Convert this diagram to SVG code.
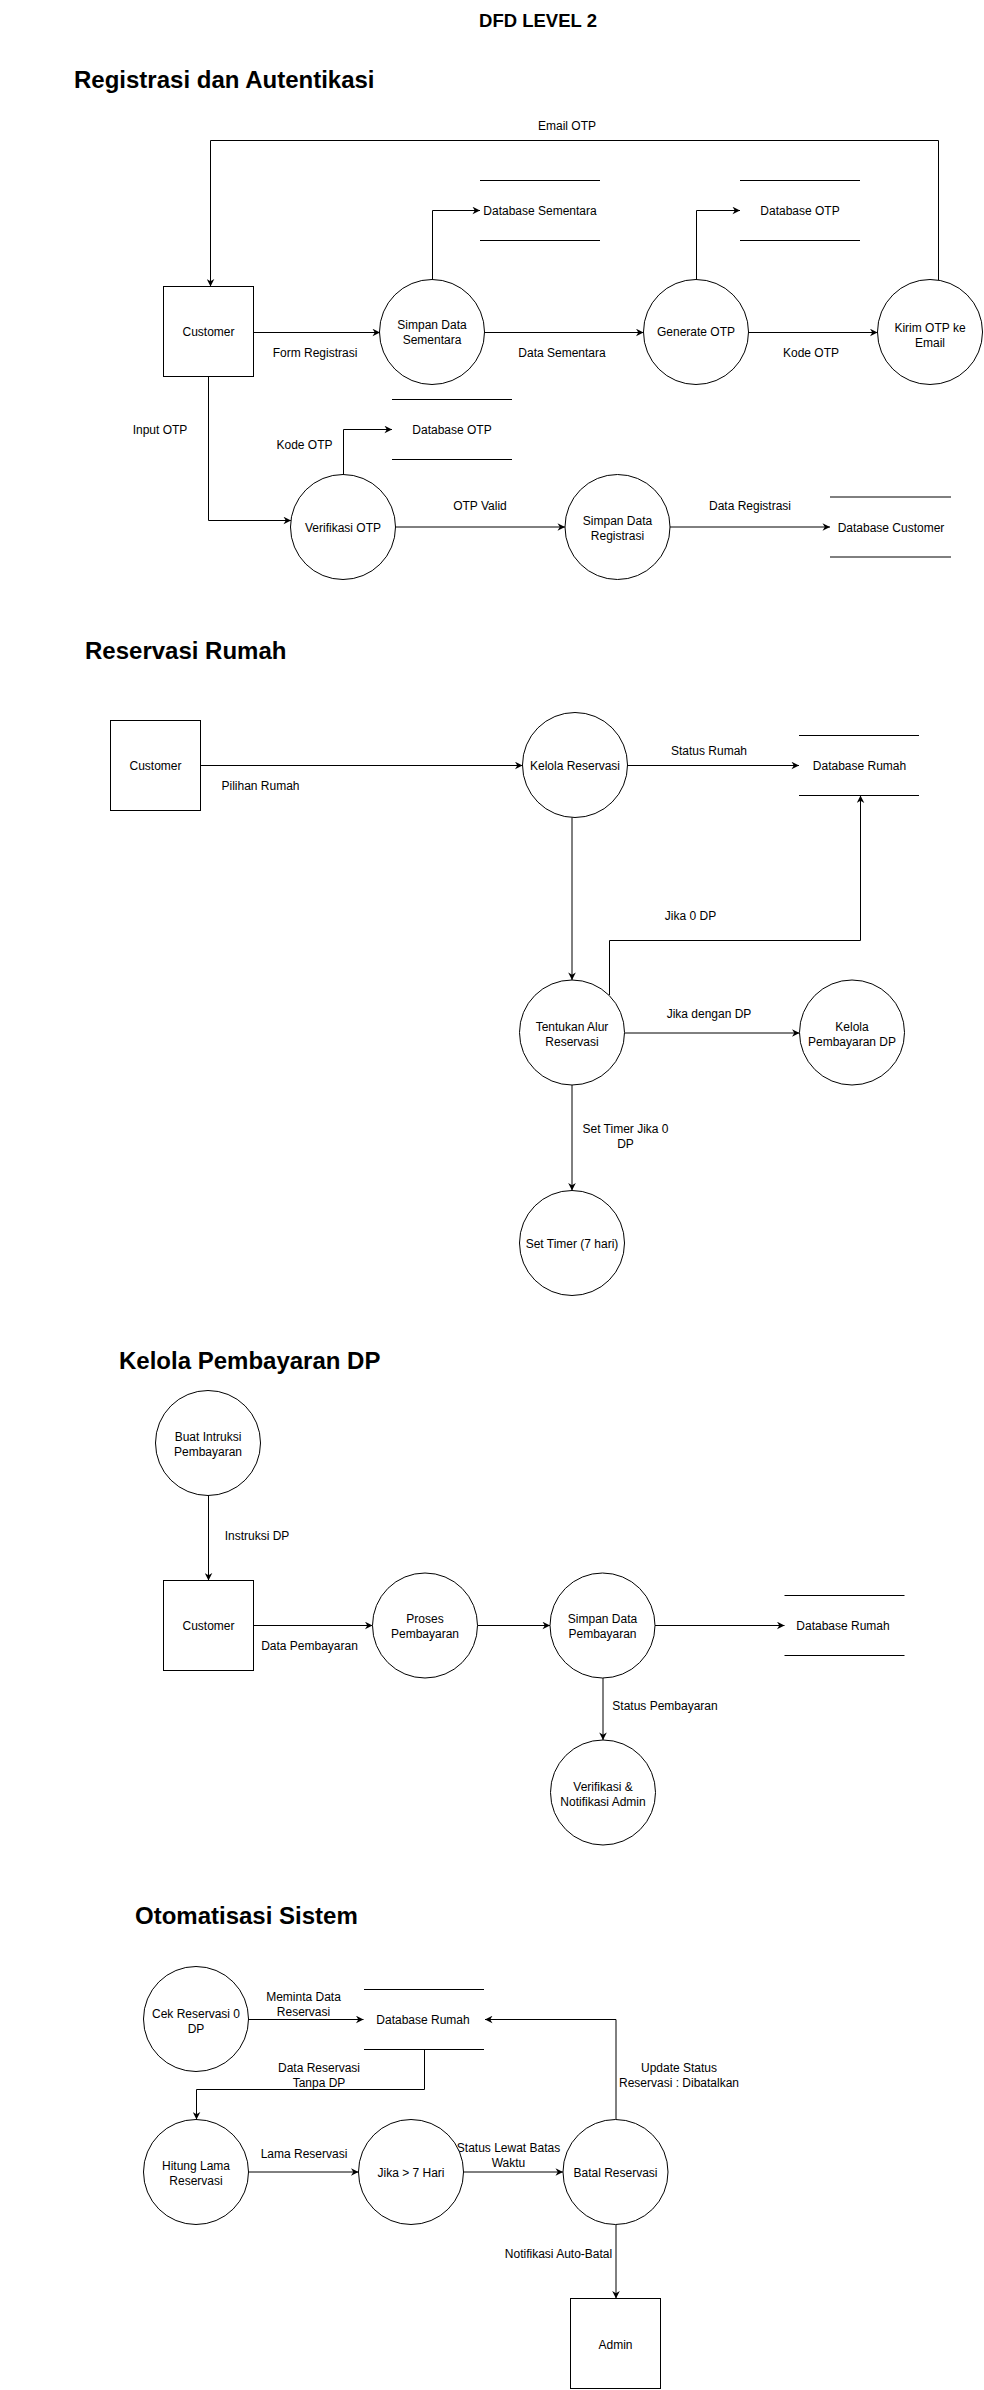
<svg xmlns="http://www.w3.org/2000/svg" width="984" height="2390" viewBox="0 0 984 2390">
<style>
.bg{fill:#fff}
.nd{fill:#fff;stroke:#000;stroke-width:1}
.st{fill:none;stroke:#000;stroke-width:1}
.ln{fill:none;stroke:#000;stroke-width:1;marker-end:url(#ar)}
.pl{fill:none;stroke:#000;stroke-width:1}
text{font-family:"Liberation Sans",Arial,Helvetica,sans-serif;font-size:12px;fill:#000;text-anchor:middle}
.h1{font-size:18.5px;font-weight:bold}
.h2{font-size:24px;font-weight:bold;text-anchor:start}
</style>
<defs>
<marker id="ar" markerUnits="userSpaceOnUse" viewBox="-8 -4 8 8" refX="0" refY="0" markerWidth="8" markerHeight="8" orient="auto">
<path d="M0,0 L-7.5,-3.8 L-5.2,0 L-7.5,3.8 Z" fill="#000"/>
</marker>
</defs>
<rect class="bg" x="0" y="0" width="984" height="2390"/>

<text class="h1" x="538" y="27">DFD LEVEL 2</text>
<text class="h2" x="74" y="88">Registrasi dan Autentikasi</text>
<text class="h2" x="85" y="659">Reservasi Rumah</text>
<text class="h2" x="119" y="1369">Kelola Pembayaran DP</text>
<text class="h2" x="135" y="1924">Otomatisasi Sistem</text>

<g id="connectors">
<!-- Section 1 -->
<path class="ln" d="M253.5 332.5 H380"/>
<path class="ln" d="M432.5 279.5 V210.5 H480"/>
<path class="ln" d="M484.5 332.5 H643.5"/>
<path class="ln" d="M696.5 279.5 V210.5 H740"/>
<path class="ln" d="M748.5 332.5 H877.5"/>
<path class="ln" d="M938.5 280 V140.5 H210.5 V286.5"/>
<path class="ln" d="M208.5 376.5 V520.5 H291"/>
<path class="ln" d="M343.5 474.5 V429.5 H392"/>
<path class="ln" d="M395.5 527 H565"/>
<path class="ln" d="M670 527 H830"/>
<!-- Section 2 -->
<path class="ln" d="M200.5 765.5 H522.5"/>
<path class="ln" d="M627.5 765.5 H799"/>
<path class="ln" d="M572 817.4 V980"/>
<path class="ln" d="M609.5 995 V940.5 H860.5 V795.5"/>
<path class="ln" d="M624.5 1033 H799.5"/>
<path class="ln" d="M572 1085 V1190.5"/>
<!-- Section 3 -->
<path class="ln" d="M208.5 1495.5 V1580.5"/>
<path class="ln" d="M253.5 1625.5 H372.5"/>
<path class="ln" d="M477.5 1625.5 H550"/>
<path class="ln" d="M655 1625.5 H784.5"/>
<path class="ln" d="M603 1678 V1740"/>
<!-- Section 4 -->
<path class="ln" d="M248.5 2019.5 H363.5"/>
<path class="ln" d="M424.5 2049.5 V2089.5 H196.5 V2119.5"/>
<path class="ln" d="M248.5 2172 H358.5"/>
<path class="ln" d="M463.5 2172 H563"/>
<path class="ln" d="M616 2119.5 V2019.5 H485"/>
<path class="ln" d="M616 2224.5 V2298.5"/>
</g>

<g id="connector-labels">
<text x="567" y="130">Email OTP</text>
<text x="315" y="357">Form Registrasi</text>
<text x="562" y="357">Data Sementara</text>
<text x="811" y="357">Kode OTP</text>
<text x="160" y="434">Input OTP</text>
<text x="304.5" y="449">Kode OTP</text>
<text x="480" y="510">OTP Valid</text>
<text x="750" y="510">Data Registrasi</text>
<text x="260.5" y="790">Pilihan Rumah</text>
<text x="709" y="755">Status Rumah</text>
<text x="690.5" y="920">Jika 0 DP</text>
<text x="709" y="1018">Jika dengan DP</text>
<text x="625.5" y="1133">Set Timer Jika 0</text>
<text x="625.5" y="1148">DP</text>
<text x="257" y="1540">Instruksi DP</text>
<text x="309.5" y="1650">Data Pembayaran</text>
<text x="665" y="1710">Status Pembayaran</text>
<text x="303.5" y="2001">Meminta Data</text>
<text x="303.5" y="2016">Reservasi</text>
<text x="319" y="2072">Data Reservasi</text>
<text x="319" y="2087">Tanpa DP</text>
<text x="304" y="2158">Lama Reservasi</text>
<text x="508.5" y="2152">Status Lewat Batas</text>
<text x="508.5" y="2167">Waktu</text>
<text x="679" y="2072">Update Status</text>
<text x="679" y="2087">Reservasi : Dibatalkan</text>
<text x="558.5" y="2258">Notifikasi Auto-Batal</text>
</g>

<!-- Section 1 nodes -->
<g id="customer1"><rect class="nd" x="163.5" y="286.5" width="90" height="90"/><text x="208.5" y="336">Customer</text></g>
<g id="simpan-sementara"><circle class="nd" cx="432" cy="332" r="52.5"/><text x="432" y="329">Simpan Data</text><text x="432" y="344">Sementara</text></g>
<g id="db-sementara"><path class="st" d="M480 180.5 H600 M480 240.5 H600"/><text x="540" y="215">Database Sementara</text></g>
<g id="generate-otp"><circle class="nd" cx="696" cy="332" r="52.5"/><text x="696" y="336">Generate OTP</text></g>
<g id="db-otp1"><path class="st" d="M740 180.5 H860 M740 240.5 H860"/><text x="800" y="215">Database OTP</text></g>
<g id="kirim-otp"><circle class="nd" cx="930" cy="332" r="52.5"/><text x="930" y="331.5">Kirim OTP ke</text><text x="930" y="346.5">Email</text></g>
<g id="verifikasi-otp"><circle class="nd" cx="343" cy="527" r="52.5"/><text x="343" y="531.5">Verifikasi OTP</text></g>
<g id="db-otp2"><path class="st" d="M392 399.5 H512 M392 459.5 H512"/><text x="452" y="433.5">Database OTP</text></g>
<g id="simpan-registrasi"><circle class="nd" cx="617.5" cy="527" r="52.5"/><text x="617.5" y="525">Simpan Data</text><text x="617.5" y="540">Registrasi</text></g>
<g id="db-customer"><path class="st" d="M830 497 H951 M830 557 H951"/><text x="891" y="531.5">Database Customer</text></g>

<!-- Section 2 nodes -->
<g id="customer2"><rect class="nd" x="110.5" y="720.5" width="90" height="90"/><text x="155.5" y="769.5">Customer</text></g>
<g id="kelola-reservasi"><circle class="nd" cx="575" cy="765" r="52.5"/><text x="575" y="769.5">Kelola Reservasi</text></g>
<g id="db-rumah1"><path class="st" d="M799 735.5 H919 M799 795.5 H919"/><text x="859.5" y="769.5">Database Rumah</text></g>
<g id="tentukan-alur"><circle class="nd" cx="572" cy="1032.5" r="52.5"/><text x="572" y="1030.5">Tentukan Alur</text><text x="572" y="1045.5">Reservasi</text></g>
<g id="kelola-dp"><circle class="nd" cx="852" cy="1032.5" r="52.5"/><text x="852" y="1030.5">Kelola</text><text x="852" y="1045.5">Pembayaran DP</text></g>
<g id="set-timer"><circle class="nd" cx="572" cy="1243" r="52.5"/><text x="572" y="1248">Set Timer (7 hari)</text></g>

<!-- Section 3 nodes -->
<g id="buat-instruksi"><circle class="nd" cx="208" cy="1443" r="52.5"/><text x="208" y="1441">Buat Intruksi</text><text x="208" y="1456">Pembayaran</text></g>
<g id="customer3"><rect class="nd" x="163.5" y="1580.5" width="90" height="90"/><text x="208.5" y="1629.5">Customer</text></g>
<g id="proses-pembayaran"><circle class="nd" cx="425" cy="1625.5" r="52.5"/><text x="425" y="1623">Proses</text><text x="425" y="1638">Pembayaran</text></g>
<g id="simpan-pembayaran"><circle class="nd" cx="602.5" cy="1625.5" r="52.5"/><text x="602.5" y="1623">Simpan Data</text><text x="602.5" y="1638">Pembayaran</text></g>
<g id="db-rumah2"><path class="st" d="M784.5 1595.5 H904.5 M784.5 1655.5 H904.5"/><text x="843" y="1630">Database Rumah</text></g>
<g id="verifikasi-admin"><circle class="nd" cx="603" cy="1792.5" r="52.5"/><text x="603" y="1791">Verifikasi &amp;</text><text x="603" y="1806">Notifikasi Admin</text></g>

<!-- Section 4 nodes -->
<g id="cek-reservasi"><circle class="nd" cx="196" cy="2019" r="52.5"/><text x="196" y="2017.5">Cek Reservasi 0</text><text x="196" y="2032.5">DP</text></g>
<g id="db-rumah3"><path class="st" d="M364 1989.5 H484 M364 2049.5 H484"/><text x="423" y="2024">Database Rumah</text></g>
<g id="hitung-lama"><circle class="nd" cx="196" cy="2172" r="52.5"/><text x="196" y="2170">Hitung Lama</text><text x="196" y="2185">Reservasi</text></g>
<g id="jika-7-hari"><circle class="nd" cx="411" cy="2172" r="52.5"/><text x="411" y="2177">Jika &gt; 7 Hari</text></g>
<g id="batal-reservasi"><circle class="nd" cx="615.5" cy="2172" r="52.5"/><text x="615.5" y="2177">Batal Reservasi</text></g>
<g id="admin"><rect class="nd" x="570.5" y="2298.5" width="90" height="90"/><text x="615.5" y="2349">Admin</text></g>
</svg>
